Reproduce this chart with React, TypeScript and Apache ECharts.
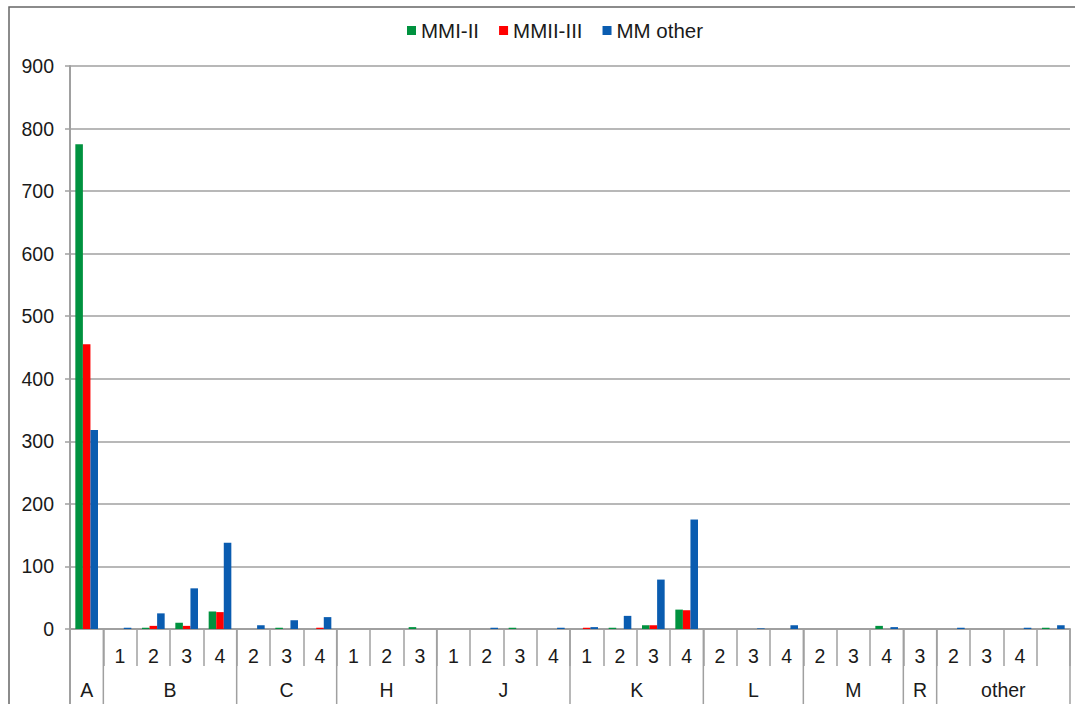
import React, { useEffect, useRef } from "react";
import * as echarts from "echarts";

const subLabels = ["", "1", "2", "3", "4", "2", "3", "4", "1", "2", "3", "1", "2", "3", "4", "1", "2", "3", "4", "2", "3", "4", "2", "3", "4", "3", "2", "3", "4", ""];
const groupNames = ["A", "B", "C", "H", "J", "K", "L", "M", "R", "other"];
const groupSpans = [1, 4, 3, 3, 4, 4, 3, 3, 1, 4];

const seriesNames = ["MMI-II", "MMII-III", "MM other"];
const mmi = [775, 0, 2, 10, 28, 0, 2, 0, 0, 0, 3, 0, 0, 2, 0, 0, 2, 6, 31, 0, 0, 0, 0, 0, 5, 0, 0, 0, 0, 2];
const mmii = [455, 0, 5, 5, 27, 0, 0, 2, 0, 0, 0, 0, 0, 0, 0, 2, 0, 6, 30, 0, 0, 0, 0, 0, 0, 0, 0, 0, 0, 0];
const mmOther = [318, 2, 25, 65, 138, 6, 14, 19, 0, 0, 0, 0, 2, 0, 2, 3, 21, 79, 175, 0, 1, 6, 0, 0, 3, 0, 2, 0, 2, 6];
const yTicks = { min: 0, max: 900, interval: 100 };

const colors = ["#00923f", "#ff0000", "#0a5cb0"];
const FONT = "'Liberation Sans', Arial, sans-serif";
const TEXT = "#1a1a1a";
const GRID = "#a0a0a0";

export default function App() {
  const ref = useRef<HTMLDivElement>(null);
  useEffect(() => {
    if (!ref.current) return;
    const chart = echarts.init(ref.current, null, { renderer: "svg" });
    const values = [mmi, mmii, mmOther];
    const option: any = {
      animation: false,
      textStyle: { fontFamily: FONT },
      legend: {
        top: 15,
        left: 402,
        icon: "rect",
        itemWidth: 9,
        itemHeight: 9,
        itemGap: 20,
        textStyle: { fontSize: 20.5, color: TEXT, fontFamily: FONT },
        data: seriesNames,
      },
      grid: { left: 70, right: 5, top: 66, bottom: 75, containLabel: false },
      xAxis: {
        type: "category",
        data: subLabels,
        axisLine: { show: true, lineStyle: { color: GRID, width: 2 } },
        axisTick: { show: true, length: 37, interval: 0, alignWithLabel: false, lineStyle: { color: GRID, width: 1.5 } },
        axisLabel: { interval: 0, fontSize: 19.5, color: TEXT, margin: 17, fontFamily: FONT },
        splitLine: { show: false },
      },
      yAxis: {
        type: "value",
        min: yTicks.min,
        max: yTicks.max,
        interval: yTicks.interval,
        axisLine: { show: true, lineStyle: { color: GRID, width: 2 } },
        axisTick: { show: true, length: 5, lineStyle: { color: GRID, width: 1.5 } },
        axisLabel: { fontSize: 19.5, color: TEXT, margin: 16, fontFamily: FONT },
        splitLine: { show: true, lineStyle: { color: GRID, width: 1.5 } },
      },
      series: seriesNames.map((name, i) => ({
        name,
        type: "bar",
        data: values[i],
        itemStyle: { color: colors[i] },
        barGap: "0%",
        barCategoryGap: "32%",
      })),
    };
    chart.setOption(option);

    const c0 = chart.convertToPixel({ xAxisIndex: 0 }, 0) as number;
    const c1 = chart.convertToPixel({ xAxisIndex: 0 }, 1) as number;
    const slot = c1 - c0;
    const y0 = chart.convertToPixel({ yAxisIndex: 0 }, 0) as number;
    const boundary = (i: number) => c0 - slot / 2 + i * slot;

    const graphics: any[] = [
      {
        type: "rect",
        shape: { x: 9, y: 7, width: 1200, height: 900 },
        style: { fill: "none", stroke: "#666", lineWidth: 1.5 },
        silent: true,
      },
    ];
    let start = 0;
    const bounds: number[] = [0];
    groupNames.forEach((g, gi) => {
      const end = start + groupSpans[gi];
      bounds.push(end);
      graphics.push({
        type: "text",
        x: (boundary(start) + boundary(end)) / 2,
        y: y0 + 61,
        style: { text: g, fontSize: 19.5, fill: TEXT, fontFamily: FONT, align: "center", verticalAlign: "middle" },
        silent: true,
      });
      start = end;
    });
    bounds.forEach((b) => {
      const x = boundary(b);
      graphics.push({
        type: "line",
        shape: { x1: x, y1: y0, x2: x, y2: y0 + 90 },
        style: { stroke: GRID, lineWidth: b === 0 ? 2 : 1.5 },
        silent: true,
      });
    });
    chart.setOption({ graphic: graphics });

    return () => chart.dispose();
  }, []);
  return <div ref={ref} style={{ position: "absolute", left: 0, top: 0, width: 1075, height: 704 }} />;
}
